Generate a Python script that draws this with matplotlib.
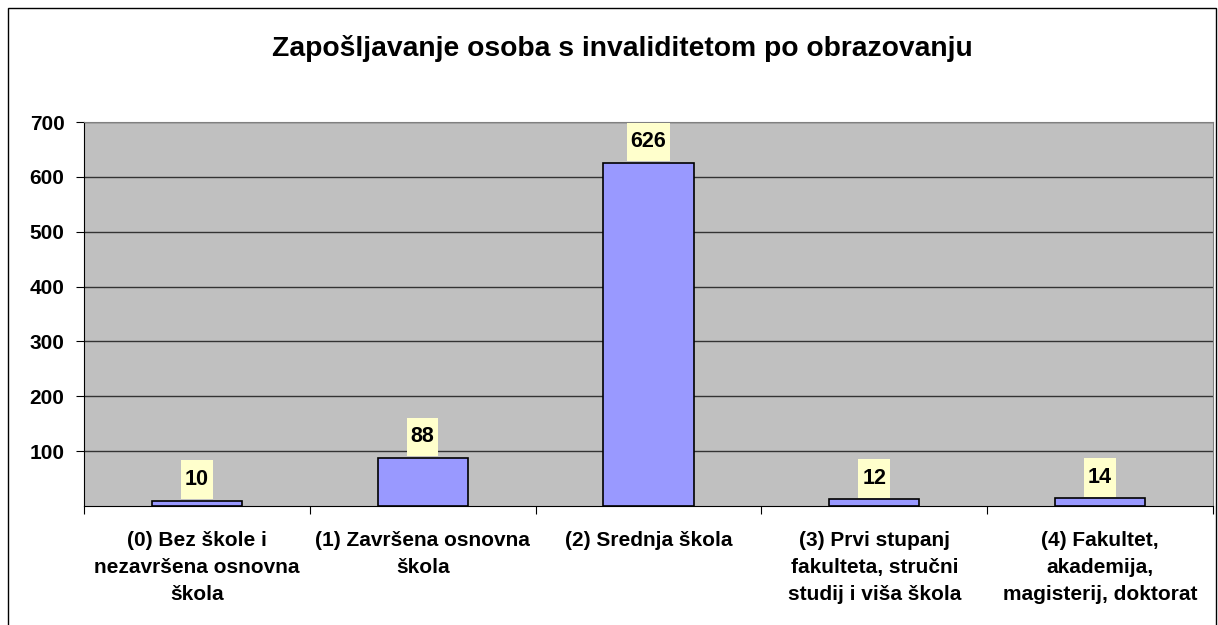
import matplotlib
matplotlib.use("Agg")
import matplotlib.pyplot as plt
from matplotlib.patches import Rectangle
from matplotlib.path import Path

categories = [
    "(0) Bez škole i\nnezavršena osnovna\nškola",
    "(1) Završena osnovna\nškola",
    "(2) Srednja škola",
    "(3) Prvi stupanj\nfakulteta, stručni\nstudij i viša škola",
    "(4) Fakultet,\nakademija,\nmagisterij, doktorat",
]
values = [10, 88, 626, 12, 14]
yticks = [100, 200, 300, 400, 500, 600, 700]
title = "Zapošljavanje osoba s invaliditetom po obrazovanju"

plt.rcParams['font.family'] = ['Liberation Sans', 'DejaVu Sans']


def tall_box(x0, y0, width, height, mutation_size):
    px = 0.18 * mutation_size
    py = 0.4 * mutation_size
    verts = [(x0 - px, y0 - py), (x0 + width + px, y0 - py),
             (x0 + width + px, y0 + height + py), (x0 - px, y0 + height + py),
             (x0 - px, y0 - py)]
    return Path(verts, closed=True)


fig = plt.figure(figsize=(12.18, 6.25), dpi=100)
ax = fig.add_axes([84/1218, 1-506/625, (1213-84)/1218, (506-122)/625])
ax.set_facecolor('#C0C0C0')

x = list(range(len(values)))
ax.bar(x, values, width=0.4, color='#9999FF', edgecolor='black', linewidth=1.2, zorder=3)

ax.set_xlim(-0.5, len(values) - 0.5)
ax.set_ylim(0, 700)
ax.set_yticks(yticks)
ax.set_yticklabels([str(t) for t in yticks], fontsize=15, fontweight='bold')
ax.yaxis.grid(True, color='#333333', linewidth=1, zorder=0)
ax.set_axisbelow(True)

ax.set_xticks([i + 0.5 for i in range(-1, len(values))], minor=False)
ax.set_xticklabels([])
ax.set_xticks(x, minor=True)
ax.set_xticklabels(categories, minor=True, fontsize=15, fontweight='bold', linespacing=1.55, va='top')
ax.tick_params(axis='x', which='minor', length=0, pad=18)
ax.tick_params(axis='x', which='major', length=6, direction='out', color='black')
ax.tick_params(axis='y', length=6, direction='out', color='black', pad=8)

for s in ['top', 'right']:
    ax.spines[s].set_color('#808080')
for s in ['left', 'bottom']:
    ax.spines[s].set_color('black')

for xi, v in zip(x, values):
    ax.annotate(str(v), (xi, v), xytext=(0, 7.5), textcoords='offset points',
                ha='center', va='bottom', fontsize=15.5, fontweight='bold', zorder=4,
                bbox=dict(boxstyle=tall_box, facecolor='#FFFFCC', edgecolor='none'))

fig.text(622/1218, 1-49/625, title, ha='center', va='center', fontsize=20.3, fontweight='bold')

fig.patches.append(Rectangle((8/1218, -0.02), (1216-8)/1218, 1-8/625+0.02,
                             transform=fig.transFigure, fill=False, edgecolor='black',
                             linewidth=1, zorder=10))

fig.savefig('out.png', dpi=100)
